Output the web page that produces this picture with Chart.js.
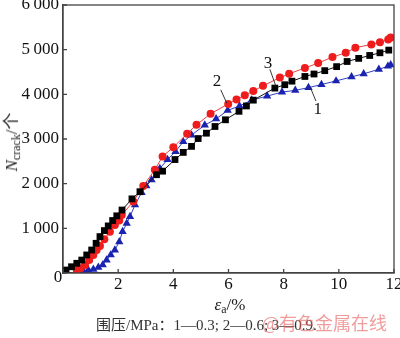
<!DOCTYPE html>
<html>
<head>
<meta charset="utf-8">
<script src="https://cdn.jsdelivr.net/npm/chart.js@4/dist/chart.umd.min.js"></script>
<style>
  html, body { margin: 0; padding: 0; background: #fff; }
  #wrap { position: relative; width: 400px; height: 338px; font-family: "Liberation Serif", "Noto Sans CJK SC", serif; color: #222; }
  #chart { position: absolute; left: 0; top: 0; }
  .lbl { position: absolute; white-space: nowrap; line-height: 1; }
  .lbl sub { font-size: 70%; vertical-align: -0.25em; font-style: normal; }
  #ytitle { left: 13px; top: 142px; font-size: 17px; transform: translate(-50%, -50%) rotate(-90deg); }
  #xtitle { left: 230px; top: 306px; font-size: 17px; transform: translate(-50%, -50%); }
  #caption { left: 96px; top: 325px; font-size: 15px; color: #333; transform: translateY(-50%); }
  #mark { left: 262px; top: 322px; font-size: 18px; color: rgba(232, 90, 90, 0.6); font-family: "Noto Sans CJK SC", sans-serif; transform: translateY(-50%); }
</style>
</head>
<body>
<div id="wrap">
  <canvas id="chart" width="400" height="338"></canvas>
  <div class="lbl" id="ytitle"><i>N</i><sub>crack</sub>/个</div>
  <div class="lbl" id="xtitle"><i>ε</i><sub>a</sub>/%</div>
  <div class="lbl" id="caption">围压/MPa：1—0.3; 2—0.6; 3—0.9.</div>
  <div class="lbl" id="mark">@有色金属在线</div>
</div>
<script>
// 1 - 0.3 MPa
const strain1 = [0.75, 0.92, 1.1, 1.28, 1.44, 1.58, 1.73, 1.88, 2.04, 2.16, 2.31, 2.43, 2.61, 2.85, 3.02, 3.21, 3.51, 3.79, 4.08, 4.36, 4.66, 5.14, 5.55, 5.97, 6.4, 6.84, 7.4, 7.94, 8.42, 8.9, 9.37, 9.9, 10.46, 10.9, 11.45, 11.78, 11.88];
const crack1 = [40, 67, 82, 128, 180, 290, 404, 515, 700, 926, 1110, 1262, 1525, 1800, 1950, 2085, 2340, 2540, 2720, 2940, 3090, 3310, 3450, 3640, 3740, 3870, 3960, 4050, 4090, 4150, 4220, 4300, 4390, 4460, 4560, 4630, 4660];
// 2 - 0.6 MPa
const strain2 = [0.5, 0.64, 0.8, 0.95, 1.1, 1.22, 1.34, 1.5, 1.7, 1.88, 2.04, 2.13, 2.55, 2.91, 3.33, 3.61, 4.0, 4.5, 4.84, 5.35, 5.99, 6.29, 6.59, 6.9, 7.25, 7.86, 8.2, 8.77, 9.25, 9.77, 10.25, 10.6, 11.18, 11.49, 11.79, 11.88];
const crack2 = [67, 105, 180, 290, 404, 515, 605, 755, 926, 1076, 1173, 1300, 1600, 1950, 2310, 2610, 2815, 3120, 3318, 3565, 3785, 3885, 3980, 4075, 4190, 4375, 4460, 4590, 4700, 4835, 4930, 5045, 5115, 5165, 5225, 5270];
// 3 - 0.9 MPa
const strain3 = [0.11, 0.31, 0.5, 0.68, 0.86, 1.04, 1.2, 1.34, 1.5, 1.64, 1.8, 1.95, 2.14, 2.5, 2.79, 3.39, 3.61, 4.06, 4.36, 4.66, 4.9, 5.2, 5.51, 5.89, 6.38, 6.65, 6.9, 7.68, 8.04, 8.3, 8.77, 9.1, 9.49, 9.92, 10.3, 10.72, 11.12, 11.49, 11.81];
const crack3 = [67, 140, 217, 290, 404, 515, 665, 815, 950, 1054, 1175, 1280, 1410, 1660, 1820, 2200, 2280, 2540, 2700, 2835, 3010, 3130, 3280, 3430, 3620, 3740, 3870, 4140, 4215, 4295, 4400, 4455, 4530, 4620, 4735, 4805, 4870, 4930, 4990];

const xTicks = [0, 2, 4, 6, 8, 10, 12];
const yTicks = [0, 1000, 2000, 3000, 4000, 5000, 6000];

// curve labels: text, label position, leader start, leader end (data units)
const curveLabels = [
  { text: '1', at: [9.24, 3650], from: [9.17, 3850], to: [8.97, 4150] },
  { text: '2', at: [5.58, 4290], from: [5.72, 4100], to: [5.94, 3800] },
  { text: '3', at: [7.43, 4680], from: [7.5, 4560], to: [7.72, 4180] }
];

function pts(xs, ys) {
  return xs.map((x, i) => ({ x: x, y: ys[i] }));
}

const AXIS = '#444';
const serif = '"Liberation Serif", serif';

// box around the plot, inward tick marks, the corner zero and the numbered leaders
const decor = {
  id: 'decor',
  afterDatasetsDraw(chart) {
    const { ctx, chartArea: a, scales: { x, y } } = chart;
    ctx.save();
    ctx.strokeStyle = AXIS;
    ctx.lineWidth = 1.3;
    ctx.strokeRect(a.left, a.top, a.right - a.left, a.bottom - a.top);
    ctx.beginPath();
    xTicks.forEach(v => {
      const px = x.getPixelForValue(v);
      ctx.moveTo(px, a.bottom);
      ctx.lineTo(px, a.bottom - 4);
    });
    yTicks.forEach(v => {
      const py = y.getPixelForValue(v);
      ctx.moveTo(a.left, py);
      ctx.lineTo(a.left + 4, py);
    });
    ctx.stroke();

    ctx.fillStyle = '#111';
    ctx.font = '17px ' + serif;
    ctx.textAlign = 'center';
    ctx.textBaseline = 'middle';
    ctx.fillText('0', a.left - 5, a.bottom + 5);

    ctx.strokeStyle = '#222';
    ctx.lineWidth = 0.9;
    curveLabels.forEach(l => {
      ctx.beginPath();
      ctx.moveTo(x.getPixelForValue(l.from[0]), y.getPixelForValue(l.from[1]));
      ctx.lineTo(x.getPixelForValue(l.to[0]), y.getPixelForValue(l.to[1]));
      ctx.stroke();
      ctx.fillText(l.text, x.getPixelForValue(l.at[0]), y.getPixelForValue(l.at[1]));
    });
    ctx.restore();
  }
};

new Chart(document.getElementById('chart'), {
  type: 'line',
  data: {
    datasets: [
      {
        label: '3',
        data: pts(strain3, crack3),
        borderColor: '#111',
        backgroundColor: '#000',
        borderWidth: 1,
        pointStyle: 'rect',
        pointRadius: 4.8,
        pointBorderWidth: 0,
        order: 1
      },
      {
        label: '2',
        data: pts(strain2, crack2),
        borderColor: '#f04040',
        backgroundColor: '#ee1c1c',
        borderWidth: 1,
        pointStyle: 'circle',
        pointRadius: 4,
        pointBorderWidth: 0,
        order: 2
      },
      {
        label: '1',
        data: pts(strain1, crack1),
        borderColor: '#3040c0',
        backgroundColor: '#1a22b0',
        borderWidth: 1,
        pointStyle: 'triangle',
        pointRadius: 4.8,
        pointBorderWidth: 0,
        order: 3
      }
    ]
  },
  options: {
    responsive: false,
    animation: false,
    layout: { padding: { left: 0, top: 5, right: 6, bottom: 45 } },
    plugins: { legend: { display: false }, tooltip: { enabled: false } },
    elements: { line: { tension: 0 } },
    scales: {
      x: {
        type: 'linear',
        min: 0,
        max: 12,
        afterBuildTicks: s => { s.ticks = xTicks.map(v => ({ value: v })); },
        afterFit: s => { s.height = 20; s.paddingLeft = 0; s.paddingRight = 0; },
        grid: { display: false, drawTicks: false },
        border: { display: true, color: AXIS, width: 1.3 },
        ticks: {
          padding: 1,
          color: '#111',
          font: { family: serif, size: 17 },
          callback: v => (v === 0 ? '' : String(v))
        }
      },
      y: {
        min: 0,
        max: 6000,
        afterBuildTicks: s => { s.ticks = yTicks.map(v => ({ value: v })); },
        afterFit: s => { s.width = 63; s.paddingTop = 0; s.paddingBottom = 0; },
        grid: { display: false, drawTicks: false },
        border: { display: true, color: AXIS, width: 1.3 },
        ticks: {
          padding: 4,
          color: '#111',
          font: { family: serif, size: 17 },
          callback: v => (v === 0 ? '' : Math.round(v / 1000) + '\u2009000')
        }
      }
    }
  },
  plugins: [decor]
});
</script>
</body>
</html>
